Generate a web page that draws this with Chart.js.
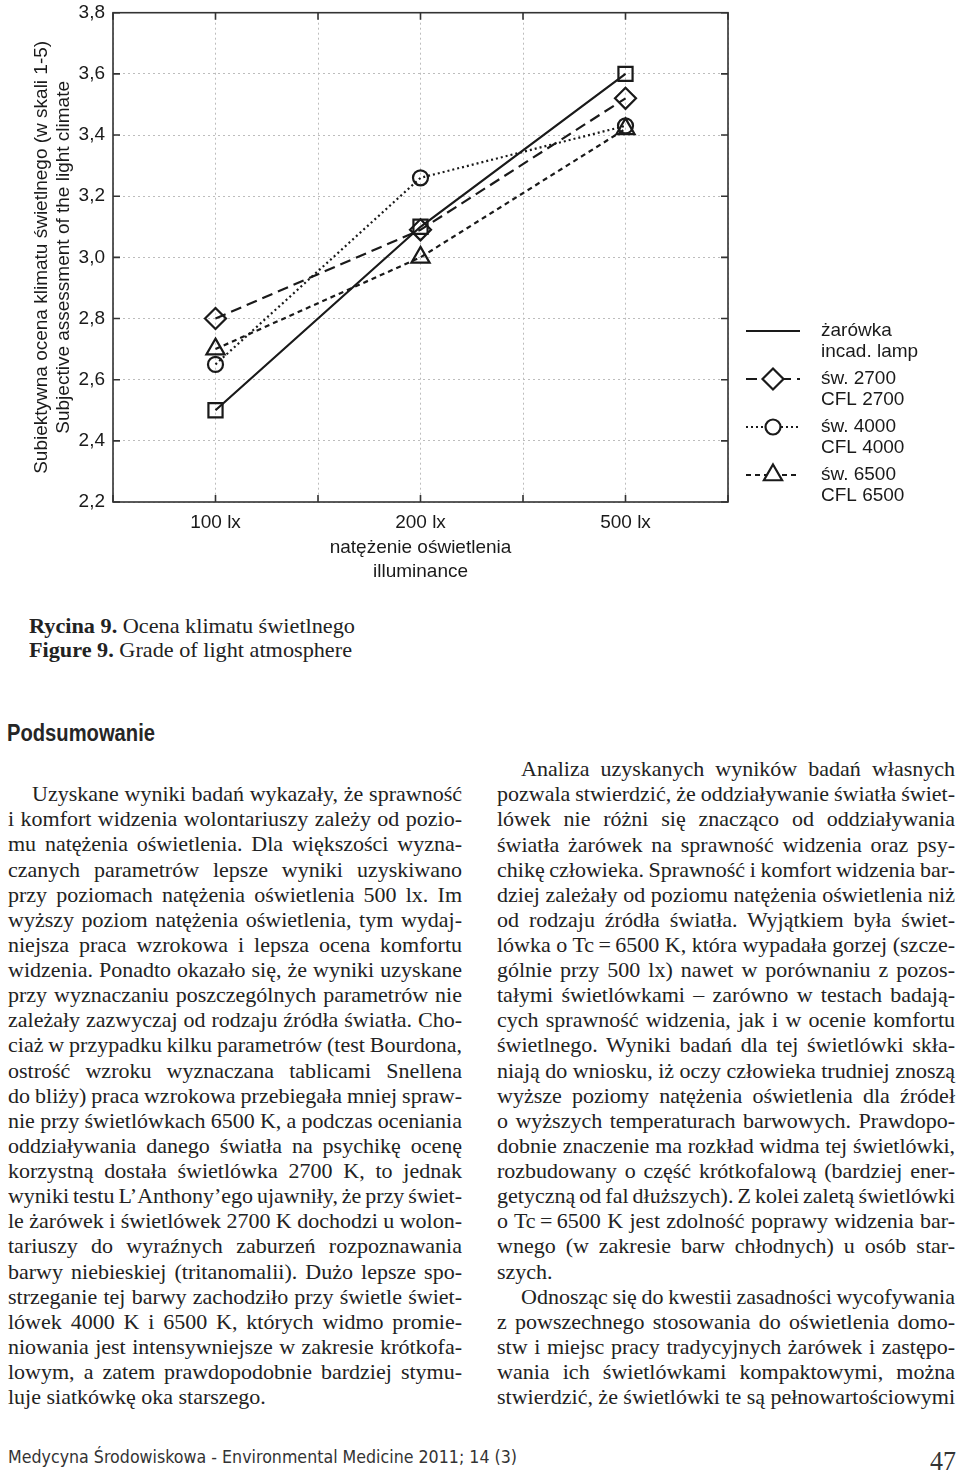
<!DOCTYPE html>
<html>
<head>
<meta charset="utf-8">
<script src="https://cdn.jsdelivr.net/npm/chart.js@4.4.1/dist/chart.umd.min.js"></script>
<style>
html, body { margin: 0; padding: 0; background: #fff; }
body { width: 960px; height: 1472px; position: relative; overflow: hidden; }
#chartBox { position: absolute; left: 0; top: 0; width: 960px; height: 590px; }
.ln { position: absolute; white-space: nowrap; color: #222; }
.ln span { display: inline-block; white-space: nowrap; transform-origin: 0 50%; }
</style>
</head>
<body>
<div id="chartBox"><canvas id="mycanvas" width="960" height="590"></canvas></div>
<script>
// values (Rycina 9)
var levels  = ['100 lx', '200 lx', '500 lx'];
var incad   = [2.50, 3.10, 3.60];
var cfl2700 = [2.80, 3.09, 3.52];
var cfl4000 = [2.65, 3.26, 3.43];
var cfl6500 = [2.70, 3.00, 3.42];
var names = [
  ['żarówka', 'incad. lamp'],
  ['św. 2700', 'CFL 2700'],
  ['św. 4000', 'CFL 4000'],
  ['św. 6500', 'CFL 6500']
];
var yMin = 2.2, yMax = 3.8, yStep = 0.2;
var yTitle = ['Subiektywna ocena klimatu świetlnego (w skali 1-5)', 'Subjective assessment of the light climate'];
var xTitle = ['natężenie oświetlenia', 'illuminance'];

// the x axis has an empty grid slot before, between and after the levels
function spread(arr) {
  var out = [null];
  arr.forEach(function (v) { out.push(v, null); });
  return out;
}
var xLabels = spread(levels).map(function (v) { return v === null ? '' : v; });

var ink = '#1a1a1a';
var axisFont = { family: "'Liberation Sans', Arial, sans-serif", size: 19 };

function ds(name, data, dash, style, r) {
  return {
    label: name.join(' / '),
    legendText: name,
    data: spread(data),
    borderColor: ink,
    borderWidth: 2.2,
    borderDash: dash,
    pointStyle: style,
    pointRadius: r,
    pointBorderWidth: 2.2,
    pointBorderColor: ink,
    pointBackgroundColor: 'rgba(255,255,255,0)',
    spanGaps: true,
    tension: 0,
    fill: false
  };
}

var framePlugin = {
  id: 'frame',
  beforeDatasetsDraw: function (chart) {
    var a = chart.chartArea, ctx = chart.ctx, x = chart.scales.x, y = chart.scales.y;
    ctx.save();
    ctx.strokeStyle = '#333';
    ctx.lineWidth = 1.6;
    ctx.strokeRect(a.left, a.top, a.right - a.left, a.bottom - a.top);
    ctx.beginPath();
    x.ticks.forEach(function (t, i) {
      var px = x.getPixelForTick(i);
      ctx.moveTo(px, a.bottom); ctx.lineTo(px, a.bottom - 7);
      ctx.moveTo(px, a.top); ctx.lineTo(px, a.top + 7);
    });
    y.ticks.forEach(function (t, i) {
      var py = y.getPixelForTick(i);
      ctx.moveTo(a.left, py); ctx.lineTo(a.left + 7, py);
      ctx.moveTo(a.right, py); ctx.lineTo(a.right - 7, py);
    });
    ctx.stroke();
    ctx.restore();
  }
};

function marker(ctx, style, r, cx, cy) {
  if (Chart.helpers && Chart.helpers.drawPoint) {
    Chart.helpers.drawPoint(ctx, { pointStyle: style, radius: r, rotation: 0, borderWidth: 2.2 }, cx, cy);
    return;
  }
  ctx.beginPath();
  if (style === 'circle') ctx.arc(cx, cy, r, 0, Math.PI * 2);
  else if (style === 'rectRot') { ctx.moveTo(cx, cy - r); ctx.lineTo(cx + r, cy); ctx.lineTo(cx, cy + r); ctx.lineTo(cx - r, cy); ctx.closePath(); }
  else if (style === 'triangle') { ctx.moveTo(cx, cy - r); ctx.lineTo(cx + r * 0.866, cy + r / 2); ctx.lineTo(cx - r * 0.866, cy + r / 2); ctx.closePath(); }
  ctx.fill(); ctx.stroke();
}

var legendPlugin = {
  id: 'sideLegend',
  afterDraw: function (chart) {
    var a = chart.chartArea, ctx = chart.ctx;
    var x0 = a.right + 18, x1 = a.right + 72, tx = a.right + 93;
    ctx.save();
    chart.data.datasets.forEach(function (d, i) {
      var yy = 331 + i * 48;
      ctx.strokeStyle = ink;
      ctx.lineWidth = d.borderWidth;
      ctx.setLineDash(d.borderDash);
      ctx.beginPath(); ctx.moveTo(x0, yy); ctx.lineTo(x1, yy); ctx.stroke();
      ctx.setLineDash([]);
      if (d.pointStyle !== 'rect') {
        ctx.fillStyle = '#fff';
        marker(ctx, d.pointStyle, d.pointRadius, (x0 + x1) / 2, yy);
      }
      ctx.fillStyle = ink;
      ctx.font = '19px ' + axisFont.family;
      ctx.textBaseline = 'middle';
      ctx.textAlign = 'left';
      ctx.fillText(d.legendText[0], tx, yy);
      ctx.fillText(d.legendText[1], tx, yy + 21);
    });
    ctx.restore();
  }
};

var ctx = document.getElementById('mycanvas');
var LineGraph = new Chart(ctx, {
  type: 'line',
  data: {
    labels: xLabels,
    datasets: [
      ds(names[0], incad, [], 'rect', 10),
      ds(names[1], cfl2700, [11, 6], 'rectRot', 10.5),
      ds(names[2], cfl4000, [2, 3], 'circle', 7.5),
      ds(names[3], cfl6500, [5, 4], 'triangle', 10.5)
    ]
  },
  options: {
    responsive: false,
    animation: false,
    layout: { padding: { left: 0, right: 232, top: 6, bottom: 0 } },
    plugins: { legend: { display: false }, tooltip: { enabled: false } },
    scales: {
      x: {
        offset: false,
        grid: { drawTicks: false, color: '#bdbdbd', lineWidth: 1 },
        border: { display: false, dash: [2, 3] },
        ticks: { autoSkip: false, maxRotation: 0, padding: 9, color: ink, font: axisFont },
        title: {
          display: true, text: xTitle, color: ink,
          font: { family: axisFont.family, size: 19, lineHeight: 1.22 },
          padding: { top: 0, bottom: 7 }
        },
        afterFit: function (s) { s.height = 88; s.paddingLeft = 0; s.paddingRight = 0; }
      },
      y: {
        min: yMin, max: yMax,
        grid: { drawTicks: false, color: '#bdbdbd', lineWidth: 1 },
        border: { display: false, dash: [2, 3] },
        ticks: {
          stepSize: yStep, padding: 8, color: ink, font: axisFont,
          callback: function (v) { return v.toFixed(1).replace('.', ','); }
        },
        title: {
          display: true, text: yTitle, color: ink,
          font: { family: axisFont.family, size: 19, lineHeight: 1.15 },
          padding: { top: 31, bottom: 0 }
        },
        afterFit: function (s) { s.width = 113; s.paddingTop = 0; s.paddingBottom = 0; }
      }
    }
  },
  plugins: [framePlugin, legendPlugin]
});

// ---- page text around the figure ----
function put(html, o) {
  var d = document.createElement('div');
  d.className = 'ln';
  d.style.left = o.x + 'px';
  d.style.top = (o.y - o.lh / 2 - (o.shift || 0)) + 'px';
  d.style.font = o.font;
  d.style.lineHeight = o.lh + 'px';
  d.style.height = o.lh + 'px';
  if (o.color) d.style.color = o.color;
  var s = document.createElement('span');
  s.innerHTML = html;
  d.appendChild(s);
  document.body.appendChild(d);
  var n = s.getBoundingClientRect().width;
  if (o.justify) {
    var gaps = (html.match(/ /g) || []).length;
    var extra = gaps ? (o.w - n) / gaps : 0;
    if (extra >= -1.5) {
      s.style.wordSpacing = extra + 'px';
    } else {
      s.style.wordSpacing = '-1.5px';
      s.style.transform = 'scaleX(' + (o.w / (n - 1.5 * gaps)) + ')';
    }
  } else if (o.w) {
    s.style.transform = 'scaleX(' + (o.w / n) + ')';
  }
}

var leftLines = [
  'Uzyskane wyniki badań wykazały, że sprawność',
  'i komfort widzenia wolontariuszy zależy od pozio-',
  'mu natężenia oświetlenia. Dla większości wyzna-',
  'czanych parametrów lepsze wyniki uzyskiwano',
  'przy poziomach natężenia oświetlenia 500 lx. Im',
  'wyższy poziom natężenia oświetlenia, tym wydaj-',
  'niejsza praca wzrokowa i lepsza ocena komfortu',
  'widzenia. Ponadto okazało się, że wyniki uzyskane',
  'przy wyznaczaniu poszczególnych parametrów nie',
  'zależały zazwyczaj od rodzaju źródła światła. Cho-',
  'ciaż w przypadku kilku parametrów (test Bourdona,',
  'ostrość wzroku wyznaczana tablicami Snellena',
  'do bliży) praca wzrokowa przebiegała mniej spraw-',
  'nie przy świetlówkach 6500 K, a podczas oceniania',
  'oddziaływania danego światła na psychikę ocenę',
  'korzystną dostała świetlówka 2700 K, to jednak',
  'wyniki testu L’Anthony’ego ujawniły, że przy świet-',
  'le żarówek i świetlówek 2700 K dochodzi u wolon-',
  'tariuszy do wyraźnych zaburzeń rozpoznawania',
  'barwy niebieskiej (tritanomalii). Dużo lepsze spo-',
  'strzeganie tej barwy zachodziło przy świetle świet-',
  'lówek 4000 K i 6500 K, których widmo promie-',
  'niowania jest intensywniejsze w zakresie krótkofa-',
  'lowym, a zatem prawdopodobnie bardziej stymu-',
  'luje siatkówkę oka starszego.'
];
var leftBreaks = { 0: 'indent', 24: 'last' };

var rightLines = [
  'Analiza uzyskanych wyników badań własnych',
  'pozwala stwierdzić, że oddziaływanie światła świet-',
  'lówek nie różni się znacząco od oddziaływania',
  'światła żarówek na sprawność widzenia oraz psy-',
  'chikę człowieka. Sprawność i komfort widzenia bar-',
  'dziej zależały od poziomu natężenia oświetlenia niż',
  'od rodzaju źródła światła. Wyjątkiem była świet-',
  'lówka o Tc\u2009=\u20096500 K, która wypadała gorzej (szcze-',
  'gólnie przy 500 lx) nawet w porównaniu z pozos-',
  'tałymi świetlówkami – zarówno w testach badają-',
  'cych sprawność widzenia, jak i w ocenie komfortu',
  'świetlnego. Wyniki badań dla tej świetlówki skła-',
  'niają do wniosku, iż oczy człowieka trudniej znoszą',
  'wyższe poziomy natężenia oświetlenia dla źródeł',
  'o wyższych temperaturach barwowych. Prawdopo-',
  'dobnie znaczenie ma rozkład widma tej świetlówki,',
  'rozbudowany o część krótkofalową (bardziej ener-',
  'getyczną od fal dłuższych). Z kolei zaletą świetlówki',
  'o Tc\u2009=\u20096500 K jest zdolność poprawy widzenia bar-',
  'wnego (w zakresie barw chłodnych) u osób star-',
  'szych.',
  'Odnosząc się do kwestii zasadności wycofywania',
  'z powszechnego stosowania do oświetlenia domo-',
  'stw i miejsc pracy tradycyjnych żarówek i zastępo-',
  'wania ich świetlówkami kompaktowymi, można',
  'stwierdzić, że świetlówki te są pełnowartościowymi'
];
var rightBreaks = { 0: 'indent', 20: 'last', 21: 'indent' };

var bodyFont = "22px 'Liberation Serif', 'Times New Roman', serif";
var LH = 25.12;

function column(lines, breaks, x, w, firstY) {
  lines.forEach(function (t, i) {
    var kind = breaks[i];
    var ind = kind === 'indent' ? 24 : 0;
    put(t, {
      x: x + ind, y: firstY + i * LH, lh: LH, shift: 2, font: bodyFont,
      w: kind === 'last' ? null : w - ind, justify: kind !== 'last'
    });
  });
}
column(leftLines, leftBreaks, 8, 454, 795.8);
column(rightLines, rightBreaks, 497, 458, 770.7);

put('<b>Rycina 9.</b> Ocena klimatu świetlnego', { x: 29, y: 628, lh: 24, shift: 2, w: 326, font: "21px 'Liberation Serif', serif" });
put('<b>Figure 9.</b> Grade of light atmosphere', { x: 29, y: 652, lh: 24, shift: 2, w: 323, font: "21px 'Liberation Serif', serif" });
put('Podsumowanie', { x: 7, y: 733, lh: 28, w: 148, font: "bold 23px 'Liberation Sans Narrow', 'Liberation Sans', sans-serif", color: '#262626' });
put('Medycyna Środowiskowa - Environmental Medicine 2011; 14 (3)', { x: 8, y: 1457, lh: 22, w: 509, font: "17px 'DejaVu Sans', sans-serif", color: '#333' });
put('47', { x: 930, y: 1461, lh: 32, w: 26, font: "28px 'Liberation Serif', serif", color: '#333' });
</script>
</body>
</html>
